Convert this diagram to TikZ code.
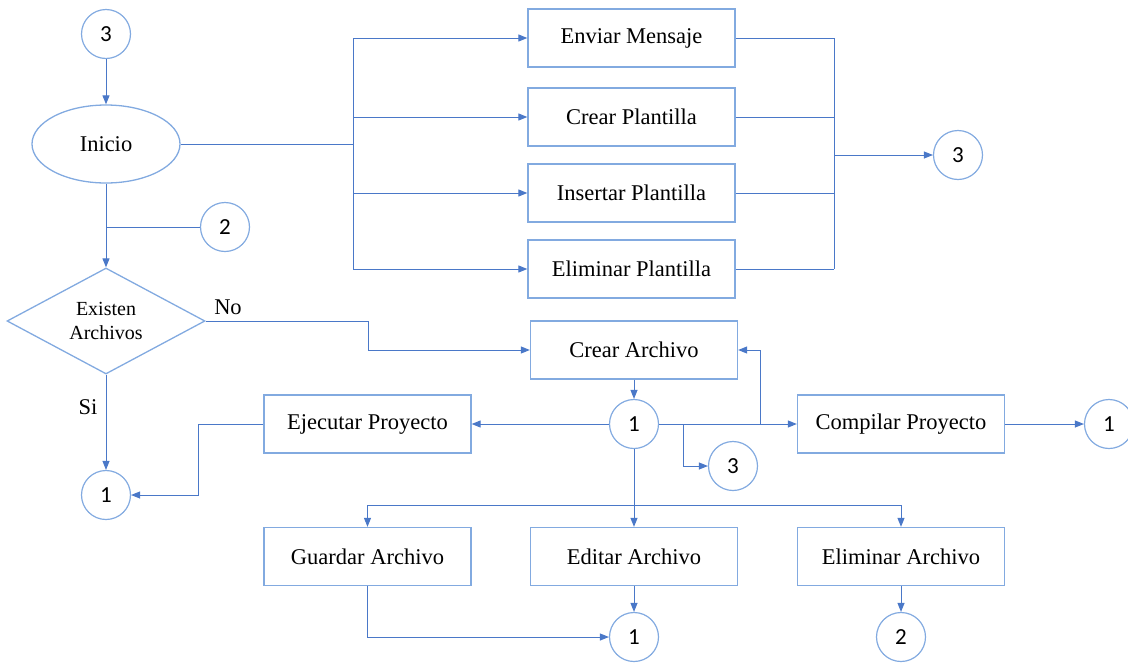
\documentclass[tikz,border=0pt]{standalone}
\usepackage{fontspec}
\setmainfont{Liberation Serif}
\newfontfamily\numfont{Carlito}
\usetikzlibrary{shapes.geometric,arrows.meta}
\definecolor{azul}{HTML}{4A78C8}
\definecolor{borde}{HTML}{82AAE0}

\begin{document}
\begin{tikzpicture}[x=1pt,y=-1pt,
  caja/.style={draw=borde,line width=1.3pt,minimum width=207pt,minimum height=58pt,inner sep=0pt,font=\fontsize{22.5}{27}\selectfont},
  conector/.style={draw=borde,circle,line width=1.2pt,minimum size=49pt,inner sep=0pt,font=\numfont\fontsize{23}{27}\selectfont},
  flecha/.style={draw=azul,line width=1pt,-{Triangle[length=9pt,width=7pt]}},
  trazo/.style={draw=azul,line width=1pt}]
  \useasboundingbox (0,0) rectangle (1128,662);

  % Left column
  \node[conector] (c3a) at (106,34) {3};
  \node[ellipse,draw=borde,line width=1.3pt,minimum width=148pt,minimum height=78pt,inner sep=0pt,font=\fontsize{22.5}{27}\selectfont] (inicio) at (106,144) {Inicio};
  \node[conector] (c2a) at (225,227) {2};
  \node[diamond,draw=borde,line width=1.3pt,aspect=1.87,minimum width=198pt,minimum height=106pt,inner sep=0pt,align=center,font=\fontsize{20}{24}\selectfont] (existen) at (106,321) {Existen\\Archivos};
  \node[font=\fontsize{22.5}{27}\selectfont] (no) at (228,307) {No};
  \node[font=\fontsize{22.5}{27}\selectfont] (si) at (88,407) {Si};
  \node[conector] (c1a) at (106,495) {1};

  % Upper boxes
  \node[caja] (env) at (631.5,38) {Enviar Mensaje};
  \node[caja] (cpl) at (631.5,117) {Crear Plantilla};
  \node[caja] (ipl) at (631.5,193) {Insertar Plantilla};
  \node[caja] (epl) at (631.5,269) {Eliminar Plantilla};
  \node[conector] (c3b) at (958,155) {3};

  % Lower boxes
  \node[caja] (carch) at (634,350) {Crear Archivo};
  \node[conector] (c1b) at (634,424) {1};
  \node[caja] (ejec) at (367.5,424) {Ejecutar Proyecto};
  \node[caja] (comp) at (901,424) {Compilar Proyecto};
  \node[conector] (c1c) at (1109,424) {1};
  \node[conector] (c3c) at (733,466) {3};
  \node[caja] (guar) at (367.5,556.5) {Guardar Archivo};
  \node[caja] (edit) at (634,556.5) {Editar Archivo};
  \node[caja] (elim) at (901,556.5) {Eliminar Archivo};
  \node[conector] (c1d) at (634,637) {1};
  \node[conector] (c2b) at (901,637) {2};

  % Junctions
  \coordinate (bifA) at (353,144);
  \coordinate (bifB) at (834,155);
  \coordinate (quiebreNo) at (368,321);
  \coordinate (quiebreEj) at (198,424);
  \coordinate (quiebreRet) at (760,424);
  \coordinate (quiebreTres) at (683,424);
  \coordinate (ramaAbajo) at (634,505);

  % Start and menu
  \draw[flecha] (c3a) -- (inicio);
  \draw[trazo] (inicio.east) -- (bifA);
  \draw[trazo] (env.west -| bifA) -- (epl.west -| bifA);
  \draw[trazo] (env.east -| bifB) -- (epl.east -| bifB);
  \foreach \n in {env,cpl,ipl,epl} {
    \draw[flecha] (\n.west -| bifA) -- (\n.west);
    \draw[trazo] (\n.east) -- (\n.east -| bifB);
  }
  \draw[flecha] (bifB) -- (c3b);

  % Decision
  \draw[flecha] (inicio) -- (existen);
  \draw[trazo] (inicio.south |- c2a) -- (c2a);
  \draw[flecha] (existen.east) -- (quiebreNo) |- (carch.west);
  \draw[flecha] (existen) -- (c1a);

  % Files
  \draw[flecha] (carch) -- (c1b);
  \draw[flecha] (c1b) -- (ejec);
  \draw[flecha] (ejec.west) -- (quiebreEj) |- (c1a.east);
  \draw[flecha] (c1b) -- (comp);
  \draw[flecha] (quiebreRet) |- (carch.east);
  \draw[flecha] (quiebreTres) |- (c3c.west);
  \draw[flecha] (comp) -- (c1c);
  \draw[flecha] (c1b) -- (edit);
  \draw[flecha] (ramaAbajo) -| (guar.north);
  \draw[flecha] (ramaAbajo) -| (elim.north);
  \draw[flecha] (guar.south) |- (c1d.west);
  \draw[flecha] (edit) -- (c1d);
  \draw[flecha] (elim) -- (c2b);
\end{tikzpicture}
\end{document}
